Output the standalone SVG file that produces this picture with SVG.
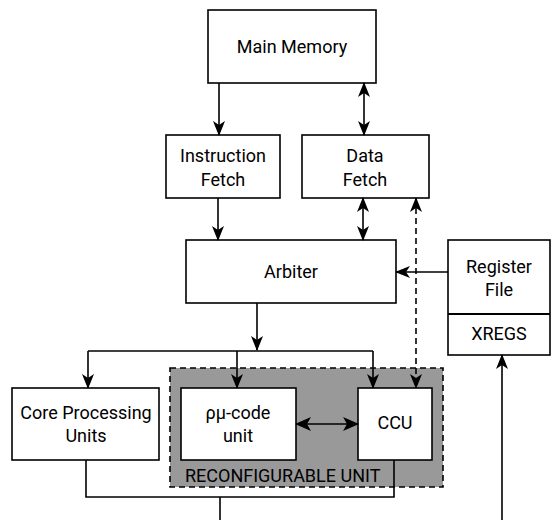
<svg xmlns="http://www.w3.org/2000/svg" width="552" height="520" viewBox="0 0 552 520">
<style>
.box{fill:#fff;stroke:#000;stroke-width:1.6}
.t{font-family:Roboto,"Liberation Sans",sans-serif;font-size:18px;text-anchor:middle;fill:#000}
.c{fill:none;stroke:#000;stroke-width:1.6}
.d{stroke-dasharray:6,4}
</style>
<defs>
<marker id="ah" viewBox="0 0 15 12" refX="14" refY="6" markerWidth="15" markerHeight="12" markerUnits="userSpaceOnUse" orient="auto-start-reverse">
<path d="M0,0 L15,6 L0,12 L4,6 z" fill="#000"/>
</marker>
<marker id="ahb" viewBox="0 0 16 14" refX="15" refY="7" markerWidth="16" markerHeight="14" markerUnits="userSpaceOnUse" orient="auto-start-reverse">
<path d="M0,0 L16,7 L0,14 L4,7 z" fill="#000"/>
</marker>
</defs>
<g id="reconfigurable-unit">
<rect x="170" y="368" width="273" height="119" fill="#999" stroke="#000" stroke-width="1.6" stroke-dasharray="6,4"/>
<text class="t" x="185" y="482" style="text-anchor:start">RECONFIGURABLE UNIT</text>
</g>
<g id="main-memory"><rect class="box" x="208" y="10" width="168" height="73"/><text class="t" x="292" y="53">Main Memory</text></g>
<g id="instruction-fetch"><rect class="box" x="166" y="135" width="114" height="63"/><text class="t" x="223" y="162">Instruction</text><text class="t" x="223" y="186">Fetch</text></g>
<g id="data-fetch"><rect class="box" x="302" y="135" width="127" height="63"/><text class="t" x="365" y="162">Data</text><text class="t" x="365" y="186">Fetch</text></g>
<g id="arbiter"><rect class="box" x="186" y="240" width="210" height="63"/><text class="t" x="291" y="278">Arbiter</text></g>
<g id="register-file"><rect class="box" x="448" y="240" width="102" height="115"/><line x1="448" y1="314" x2="550" y2="314" stroke="#000" stroke-width="2.2"/><text class="t" x="499" y="273">Register</text><text class="t" x="499" y="296">File</text><text class="t" x="499" y="340">XREGS</text></g>
<g id="core-processing-units"><rect class="box" x="12" y="388" width="147" height="72"/><text class="t" x="86" y="419">Core Processing</text><text class="t" x="86" y="442">Units</text></g>
<g id="rmu-code-unit"><rect class="box" x="181" y="388" width="115" height="72"/><text class="t" x="238" y="419">ρμ-code</text><text class="t" x="238" y="442">unit</text></g>
<g id="ccu"><rect class="box" x="358" y="388" width="74" height="72"/><text class="t" x="395" y="429">CCU</text></g>
<g id="connectors">
<path class="c" d="M219,83 V135" marker-end="url(#ah)"/>
<path class="c" d="M364,83 V135" marker-start="url(#ah)" marker-end="url(#ah)"/>
<path class="c" d="M218,198 V240" marker-end="url(#ah)"/>
<path class="c" d="M363,198 V240" marker-start="url(#ah)" marker-end="url(#ah)"/>
<path class="c d" d="M416,198 V388" marker-start="url(#ah)" marker-end="url(#ah)"/>
<path class="c" d="M448,272 H396" marker-end="url(#ah)"/>
<path class="c" d="M257,303 V350" marker-end="url(#ah)"/>
<path class="c" d="M88,351 H373"/>
<path class="c" d="M88,351 V388" marker-end="url(#ah)"/>
<path class="c" d="M237,351 V388" marker-end="url(#ah)"/>
<path class="c" d="M373,351 V388" marker-end="url(#ah)"/>
<path class="c" d="M296,424 H358" stroke-width="3" marker-start="url(#ahb)" marker-end="url(#ahb)"/>
<path class="c" d="M86,460 V497 H394 V460"/>
<path class="c" d="M220,497 V520"/>
<path class="c" d="M502,520 V355" marker-end="url(#ah)"/>
</g>
</svg>
